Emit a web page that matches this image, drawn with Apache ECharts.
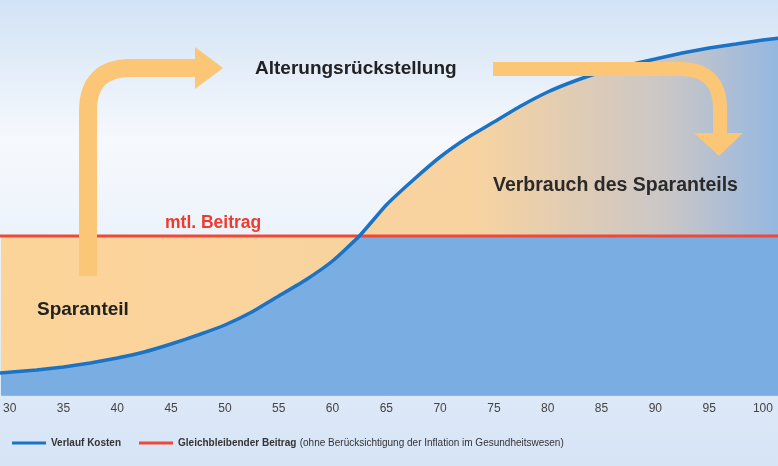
<script src="https://cdn.jsdelivr.net/npm/echarts@6/dist/echarts.min.js"></script>
<div id="main" style="width:778px;height:466px;margin:0;padding:0;"></div>
<style>body{margin:0}</style>
<script>
    // Alter und Kostenverlauf (Werte in relativen Einheiten)
    var ages = [29, 32.5, 35, 37.5, 40, 42.5, 45, 47.5, 50, 52.5, 55, 57.5, 60, 62.5, 65, 67.5, 70, 72.5, 75, 77.5, 80, 82.5, 85, 87.5, 90, 92.5, 95, 97.5, 100, 102.5];
    var kosten = [22, 25, 28, 32, 37, 43, 51, 60, 70, 83, 99, 115, 134, 159, 190, 215, 238, 257, 273, 289, 303, 314, 323, 330, 336, 342, 347, 351, 355, 358];
    var beitrag = 159;

    var kostenData = ages.map(function (a, i) { return [a, kosten[i]]; });
    var beitragData = ages.map(function (a) { return [a, beitrag]; });
    var obenData = ages.map(function (a, i) { return [a, Math.max(kosten[i], beitrag)]; });
    var untenData = ages.map(function (a, i) { return [a, Math.min(kosten[i], beitrag)]; });

    var myChart = echarts.init(document.getElementById('main'));
    var font = 'Liberation Sans, Arial, sans-serif';
    var pfeil = '#fbc675';
    var glatt = 0.15;

    function label(txt, x, y, size, color) {
        return {
            type: 'text', z: 11, x: x, y: y,
            style: { text: txt, font: 'bold ' + size + 'px ' + font, fill: color, verticalAlign: 'middle' }
        };
    }

    var option = {
        animation: false,
        textStyle: { fontFamily: font },
        grid: { left: 0, right: 0, top: 0, bottom: 71 },
        xAxis: {
            type: 'value', min: 29.26, max: 101.4,
            axisLine: { show: true, lineStyle: { color: '#9fb1c8' } },
            axisTick: { show: false }, splitLine: { show: false },
            axisLabel: {
                color: '#444', fontSize: 12, margin: 8,
                customValues: [30, 35, 40, 45, 50, 55, 60, 65, 70, 75, 80, 85, 90, 95, 100]
            }
        },
        yAxis: { type: 'value', min: 0, max: 395, show: false },
        legend: {
            left: 7, top: 432, itemWidth: 34, itemHeight: 3, itemGap: 18,
            icon: 'rect',
            data: ['Verlauf Kosten', 'Gleichbleibender Beitrag'],
            formatter: function (n) {
                return n === 'Verlauf Kosten' ? '{b|Verlauf Kosten}' :
                    '{b|Gleichbleibender Beitrag} {n|(ohne Berücksichtigung der Inflation im Gesundheitswesen)}';
            },
            textStyle: {
                rich: {
                    b: { fontWeight: 'bold', color: '#333', fontSize: 10, fontFamily: font },
                    n: { color: '#333', fontSize: 10, fontFamily: font }
                }
            }
        },
        series: [
            {
                type: 'line', data: obenData, smooth: glatt, symbol: 'none', z: 1,
                lineStyle: { width: 0 },
                areaStyle: {
                    opacity: 1,
                    color: {
                        type: 'linear', x: 0, y: 0, x2: 1, y2: 0,
                        colorStops: [
                            { offset: 0, color: '#fcd49a' },
                            { offset: 0.6, color: '#f8d3a0' },
                            { offset: 0.85, color: '#c9c6c8' },
                            { offset: 1, color: '#8fb6e3' }
                        ]
                    }
                }
            },
            {
                type: 'line', data: untenData, smooth: glatt, symbol: 'none', z: 2,
                lineStyle: { width: 0 },
                areaStyle: { opacity: 1, color: '#7aaee2' }
            },
            {
                name: 'Verlauf Kosten', type: 'line', data: kostenData, smooth: glatt,
                symbol: 'none', z: 4, color: '#1a73c4',
                lineStyle: { width: 3.5, color: '#1a73c4' }
            },
            {
                name: 'Gleichbleibender Beitrag', type: 'line', data: beitragData,
                symbol: 'none', z: 3, color: '#f04838',
                lineStyle: { width: 3, color: '#f04838' }
            }
        ],
        graphic: [
            {
                type: 'rect', z: -10, silent: true,
                shape: { x: 0, y: 0, width: 778, height: 466 },
                style: {
                    fill: {
                        type: 'linear', x: 0, y: 0, x2: 0, y2: 1,
                        colorStops: [
                            { offset: 0, color: '#d2e2f5' },
                            { offset: 0.3, color: '#f6f9fd' },
                            { offset: 1, color: '#d6e4f6' }
                        ]
                    }
                }
            },
            // linker Pfeil
            { type: 'line', z: 10, shape: { x1: 88, y1: 276, x2: 88, y2: 110 }, style: { stroke: pfeil, lineWidth: 18 } },
            { type: 'bezierCurve', z: 10, shape: { x1: 88, y1: 111, cpx1: 88, cpy1: 68, x2: 131, y2: 68 }, style: { stroke: pfeil, lineWidth: 18, fill: null } },
            { type: 'line', z: 10, shape: { x1: 130, y1: 68, x2: 197, y2: 68 }, style: { stroke: pfeil, lineWidth: 18 } },
            { type: 'polygon', z: 10, shape: { points: [[195, 47], [223, 68], [195, 89]] }, style: { fill: pfeil } },
            // rechter Pfeil
            { type: 'line', z: 10, shape: { x1: 493, y1: 69, x2: 681, y2: 69 }, style: { stroke: pfeil, lineWidth: 14 } },
            { type: 'bezierCurve', z: 10, shape: { x1: 680, y1: 69, cpx1: 720, cpy1: 69, x2: 720, y2: 109 }, style: { stroke: pfeil, lineWidth: 14, fill: null } },
            { type: 'line', z: 10, shape: { x1: 720, y1: 108, x2: 720, y2: 135 }, style: { stroke: pfeil, lineWidth: 14 } },
            { type: 'polygon', z: 10, shape: { points: [[694, 133], [743, 133], [719, 156]] }, style: { fill: pfeil } },
            label('Alterungsrückstellung', 255, 69, 19, '#222'),
            label('Verbrauch des Sparanteils', 493, 186, 19.5, '#2a2a2a'),
            label('mtl. Beitrag', 165, 223, 17.5, '#ee3b2e'),
            label('Sparanteil', 37, 310, 19, '#222')
        ]
    };

    myChart.setOption(option);
</script>
